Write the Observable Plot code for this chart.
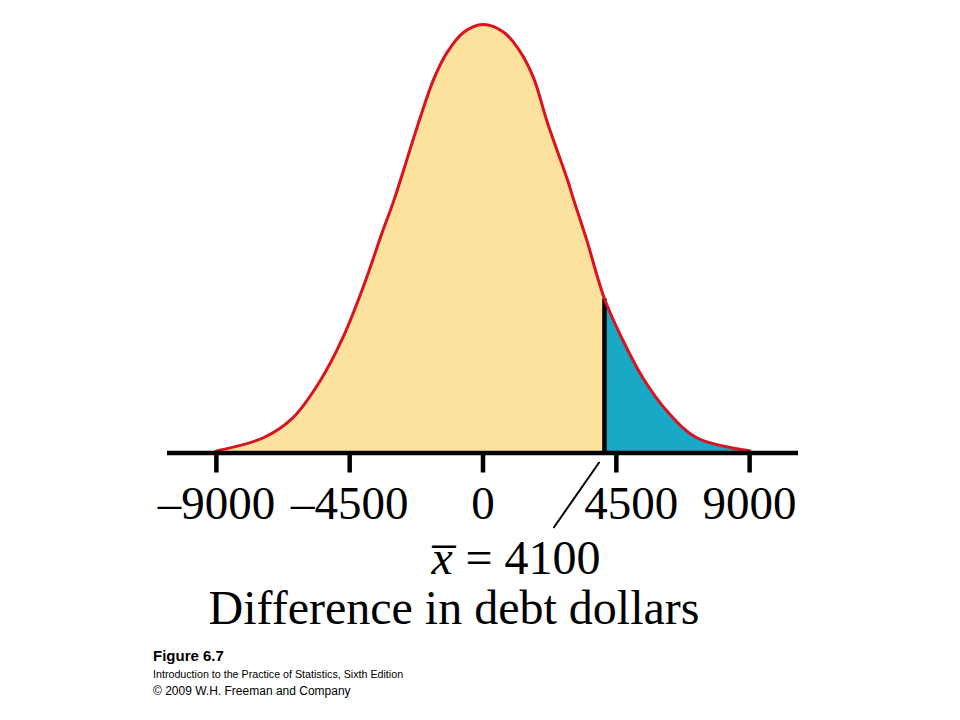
<!DOCTYPE html>
<html><head><meta charset="utf-8">
<script src="https://cdn.jsdelivr.net/npm/d3@7"></script>
<script src="https://cdn.jsdelivr.net/npm/@observablehq/plot@0.6"></script>
<style>
html,body{margin:0;padding:0;background:#fff;}
#chart{position:absolute;left:0;top:0;}
.cap{position:absolute;left:153px;font-family:"Liberation Sans",Arial,sans-serif;color:#000;white-space:nowrap;}
</style></head><body>
<div id="chart"></div>
<div class="cap" style="top:648.3px;font-size:15px;line-height:15px;font-weight:bold;">Figure 6.7</div>
<div class="cap" style="top:668.9px;font-size:10.7px;line-height:10.7px;">Introduction to the Practice of Statistics, Sixth Edition</div>
<div class="cap" style="top:684.8px;font-size:12px;line-height:12px;">© 2009 W.H. Freeman and Company</div>
<script>
// Curve: difference in debt dollars and relative height of the density
const differences = [-9000, -7430, -6420, -5500, -4730, -4050, -3380, -3010, -2170, -1660, -1210, -650, 0, 700, 1270, 1720, 2170, 2840, 3070, 3510, 4100, 4730, 5400, 6210, 7230, 9000];
const relativeDensity = [0.005, 0.035, 0.082, 0.168, 0.269, 0.386, 0.519, 0.589, 0.772, 0.873, 0.935, 0.982, 1.0, 0.982, 0.935, 0.873, 0.772, 0.64, 0.589, 0.495, 0.36, 0.262, 0.175, 0.098, 0.035, 0.005];
const xbar = 4100;
const tickValues = [-9000, -4500, 0, 4500, 9000];
const tickLabels = ["\u20139000", "\u20134500", "0", "4500", "9000"];
const xbarSymbol = "x\u0305";
const xbarText = "= 4100";
const axisTitle = "Difference in debt dollars";

const curve = differences.map((x, i) => ({x, y: relativeDensity[i]}));
const leftPart = curve.filter(d => d.x <= xbar);
const rightPart = curve.filter(d => d.x >= xbar);
const yAtXbar = curve.find(d => d.x === xbar).y;
const ticksTable = tickValues.map((v, i) => ({v, label: tickLabels[i]}));

const serif = "Liberation Serif, Times New Roman, serif";
const hasAxisMark = typeof Plot.axisX === "function";
const interp = "catmull-rom";

const marks = [
  Plot.areaY(leftPart, {x: "x", y: "y", fill: "#FDE29D", curve: interp}),
  Plot.areaY(rightPart, {x: "x", y: "y", fill: "#17A9C5", curve: interp}),
  Plot.ruleX([xbar], {x: d => d, y1: 0, y2: yAtXbar, stroke: "black", strokeWidth: 4.5}),
  Plot.line(curve, {x: "x", y: "y", stroke: "#DA1222", strokeWidth: 3, curve: interp}),
  Plot.ruleY([0], {stroke: "black", strokeWidth: 4.5}),
  Plot.text(ticksTable.filter(d => d.v !== 4500), {x: "v", text: "label", frameAnchor: "bottom", lineAnchor: "bottom", dy: 65.5, fontSize: 47, fontFamily: serif, fill: "black"}),
  Plot.text(ticksTable.filter(d => d.v === 4500), {x: "v", text: "label", frameAnchor: "bottom", lineAnchor: "bottom", dy: 65.5, dx: 15, fontSize: 47, fontFamily: serif, fill: "black"}),
  Plot.text([xbar], {x: d => d, text: () => xbarSymbol, frameAnchor: "bottom", lineAnchor: "bottom", textAnchor: "start", dx: -173, dy: 120.5, fontSize: 48, fontStyle: "italic", fontFamily: serif, fill: "black"}),
  Plot.text([xbar], {x: d => d, text: () => xbarText, frameAnchor: "bottom", lineAnchor: "bottom", textAnchor: "end", dx: -4, dy: 120.5, fontSize: 48, fontFamily: serif, fill: "black"}),
  Plot.text([axisTitle], {text: d => d, frameAnchor: "bottom", lineAnchor: "bottom", dx: -29, dy: 170.5, fontSize: 48, fontFamily: serif, fill: "black"}),
  (index, scales) => {
    const x0 = scales.x(xbar), y0 = scales.y(0);
    return d3.create("svg:line")
      .attr("x1", x0 - 4.5).attr("y1", y0 + 9.5)
      .attr("x2", x0 - 50.5).attr("y2", y0 + 75.5)
      .attr("stroke", "black").attr("stroke-width", 2).node();
  }
];
if (hasAxisMark) {
  marks.push(Plot.axisX(tickValues, {tickSize: 20, strokeWidth: 4.5, stroke: "black", tickFormat: () => ""}));
}

const chart = Plot.plot({
  width: 960,
  height: 640,
  marginLeft: 167,
  marginRight: 162,
  marginTop: 24,
  marginBottom: 187.5,
  style: {background: "white", overflow: "visible"},
  x: hasAxisMark ? {domain: [-10650, 10650]} : {domain: [-10650, 10650], ticks: tickValues, tickSize: 20, tickFormat: () => "", label: null},
  y: {domain: [0, 1], axis: null},
  marks
});
document.getElementById("chart").appendChild(chart);
</script>
</body></html>
